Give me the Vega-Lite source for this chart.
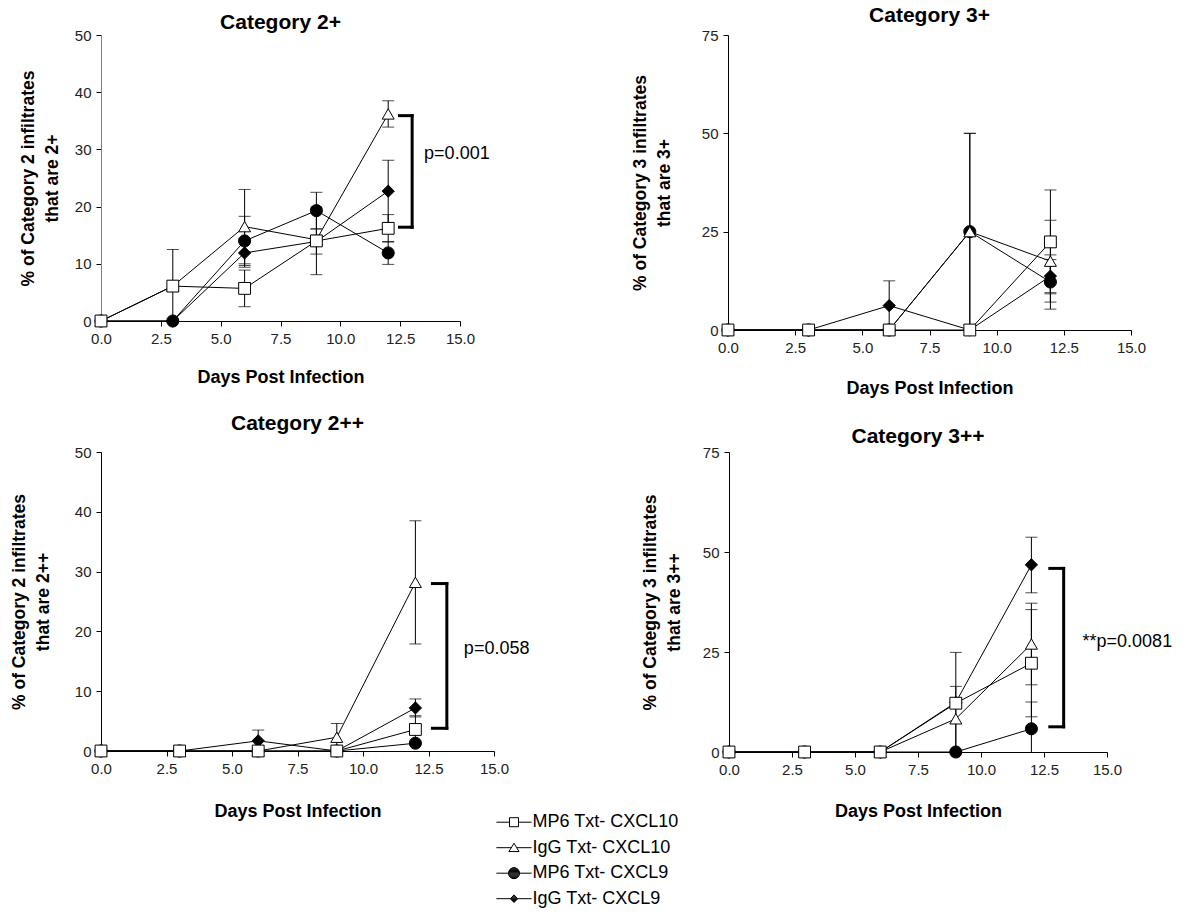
{
  "$schema": "https://vega.github.io/schema/vega-lite/v6.json",
  "background": "white",
  "padding": {"left": 10, "top": 5, "right": 5, "bottom": 5},
  "config": {
    "view": {"stroke": null},
    "font": "Liberation Sans",
    "axis": {"grid": false, "domainColor": "#000", "domainWidth": 1, "tickColor": "#000", "tickWidth": 1, "tickSize": 5, "labelFont": "Liberation Sans", "labelFontSize": 15, "labelColor": "#222", "labelPadding": 5, "labelFlush": false, "titleFont": "Liberation Sans", "titleFontSize": 18, "titleFontWeight": "bold", "titleColor": "#000"},
    "axisY": {"titleFontSize": 17.5, "titleLineHeight": 24},
    "title": {"font": "Liberation Sans", "fontSize": 21, "fontWeight": "bold", "color": "#000", "frame": "group"}
  },
  "datasets": {
    "pts": [
      {"panel": "Category 2+", "series": "IgG Txt- CXCL9", "day": 0, "mean": 0, "lo": 0, "hi": 0},
      {"panel": "Category 2+", "series": "IgG Txt- CXCL9", "day": 3, "mean": 0, "lo": 0, "hi": 0},
      {"panel": "Category 2+", "series": "IgG Txt- CXCL9", "day": 6, "mean": 11.9, "lo": 9.4, "hi": 14.4},
      {"panel": "Category 2+", "series": "IgG Txt- CXCL9", "day": 9, "mean": 13.9, "lo": 11.7, "hi": 16.1},
      {"panel": "Category 2+", "series": "IgG Txt- CXCL9", "day": 12, "mean": 22.7, "lo": 17.2, "hi": 28.1},
      {"panel": "Category 2+", "series": "MP6 Txt- CXCL9", "day": 0, "mean": 0, "lo": 0, "hi": 0},
      {"panel": "Category 2+", "series": "MP6 Txt- CXCL9", "day": 3, "mean": 0, "lo": 0, "hi": 0},
      {"panel": "Category 2+", "series": "MP6 Txt- CXCL9", "day": 6, "mean": 14.0, "lo": 9.7, "hi": 18.3},
      {"panel": "Category 2+", "series": "MP6 Txt- CXCL9", "day": 9, "mean": 19.3, "lo": 16.1, "hi": 22.5},
      {"panel": "Category 2+", "series": "MP6 Txt- CXCL9", "day": 12, "mean": 11.9, "lo": 9.9, "hi": 13.9},
      {"panel": "Category 2+", "series": "IgG Txt- CXCL10", "day": 0, "mean": 0, "lo": 0, "hi": 0},
      {"panel": "Category 2+", "series": "IgG Txt- CXCL10", "day": 3, "mean": 6.1, "lo": 6.1, "hi": 6.1},
      {"panel": "Category 2+", "series": "IgG Txt- CXCL10", "day": 6, "mean": 16.5, "lo": 10.0, "hi": 23.0},
      {"panel": "Category 2+", "series": "IgG Txt- CXCL10", "day": 9, "mean": 14.2, "lo": 13.4, "hi": 15.0},
      {"panel": "Category 2+", "series": "IgG Txt- CXCL10", "day": 12, "mean": 36.2, "lo": 33.9, "hi": 38.5},
      {"panel": "Category 2+", "series": "MP6 Txt- CXCL10", "day": 0, "mean": 0, "lo": 0, "hi": 0},
      {"panel": "Category 2+", "series": "MP6 Txt- CXCL10", "day": 3, "mean": 6.1, "lo": 0, "hi": 12.5},
      {"panel": "Category 2+", "series": "MP6 Txt- CXCL10", "day": 6, "mean": 5.7, "lo": 2.5, "hi": 8.9},
      {"panel": "Category 2+", "series": "MP6 Txt- CXCL10", "day": 9, "mean": 14.0, "lo": 8.1, "hi": 19.9},
      {"panel": "Category 2+", "series": "MP6 Txt- CXCL10", "day": 12, "mean": 16.2, "lo": 13.8, "hi": 18.6},

      {"panel": "Category 3+", "series": "IgG Txt- CXCL9", "day": 0, "mean": 0, "lo": 0, "hi": 0},
      {"panel": "Category 3+", "series": "IgG Txt- CXCL9", "day": 3, "mean": 0, "lo": 0, "hi": 0},
      {"panel": "Category 3+", "series": "IgG Txt- CXCL9", "day": 6, "mean": 6.2, "lo": 0, "hi": 12.5},
      {"panel": "Category 3+", "series": "IgG Txt- CXCL9", "day": 9, "mean": 0, "lo": 0, "hi": 0},
      {"panel": "Category 3+", "series": "IgG Txt- CXCL9", "day": 12, "mean": 13.7, "lo": 9.5, "hi": 17.9},
      {"panel": "Category 3+", "series": "MP6 Txt- CXCL9", "day": 0, "mean": 0, "lo": 0, "hi": 0},
      {"panel": "Category 3+", "series": "MP6 Txt- CXCL9", "day": 3, "mean": 0, "lo": 0, "hi": 0},
      {"panel": "Category 3+", "series": "MP6 Txt- CXCL9", "day": 6, "mean": 0, "lo": 0, "hi": 0},
      {"panel": "Category 3+", "series": "MP6 Txt- CXCL9", "day": 9, "mean": 25, "lo": 0, "hi": 50},
      {"panel": "Category 3+", "series": "MP6 Txt- CXCL9", "day": 12, "mean": 12.2, "lo": 5.3, "hi": 19.1},
      {"panel": "Category 3+", "series": "IgG Txt- CXCL10", "day": 0, "mean": 0, "lo": 0, "hi": 0},
      {"panel": "Category 3+", "series": "IgG Txt- CXCL10", "day": 3, "mean": 0, "lo": 0, "hi": 0},
      {"panel": "Category 3+", "series": "IgG Txt- CXCL10", "day": 6, "mean": 0, "lo": 0, "hi": 0},
      {"panel": "Category 3+", "series": "IgG Txt- CXCL10", "day": 9, "mean": 25, "lo": 0, "hi": 50},
      {"panel": "Category 3+", "series": "IgG Txt- CXCL10", "day": 12, "mean": 17.5, "lo": 7.1, "hi": 27.9},
      {"panel": "Category 3+", "series": "MP6 Txt- CXCL10", "day": 0, "mean": 0, "lo": 0, "hi": 0},
      {"panel": "Category 3+", "series": "MP6 Txt- CXCL10", "day": 3, "mean": 0, "lo": 0, "hi": 0},
      {"panel": "Category 3+", "series": "MP6 Txt- CXCL10", "day": 6, "mean": 0, "lo": 0, "hi": 0},
      {"panel": "Category 3+", "series": "MP6 Txt- CXCL10", "day": 9, "mean": 0, "lo": 0, "hi": 0},
      {"panel": "Category 3+", "series": "MP6 Txt- CXCL10", "day": 12, "mean": 22.4, "lo": 9.2, "hi": 35.6},

      {"panel": "Category 2++", "series": "IgG Txt- CXCL9", "day": 0, "mean": 0, "lo": 0, "hi": 0},
      {"panel": "Category 2++", "series": "IgG Txt- CXCL9", "day": 3, "mean": 0, "lo": 0, "hi": 0},
      {"panel": "Category 2++", "series": "IgG Txt- CXCL9", "day": 6, "mean": 1.7, "lo": 0, "hi": 3.5},
      {"panel": "Category 2++", "series": "IgG Txt- CXCL9", "day": 9, "mean": 0, "lo": 0, "hi": 0},
      {"panel": "Category 2++", "series": "IgG Txt- CXCL9", "day": 12, "mean": 7.2, "lo": 5.7, "hi": 8.7},
      {"panel": "Category 2++", "series": "MP6 Txt- CXCL9", "day": 0, "mean": 0, "lo": 0, "hi": 0},
      {"panel": "Category 2++", "series": "MP6 Txt- CXCL9", "day": 3, "mean": 0, "lo": 0, "hi": 0},
      {"panel": "Category 2++", "series": "MP6 Txt- CXCL9", "day": 6, "mean": 0, "lo": 0, "hi": 0},
      {"panel": "Category 2++", "series": "MP6 Txt- CXCL9", "day": 9, "mean": 0, "lo": 0, "hi": 0},
      {"panel": "Category 2++", "series": "MP6 Txt- CXCL9", "day": 12, "mean": 1.3, "lo": 1.3, "hi": 1.3},
      {"panel": "Category 2++", "series": "IgG Txt- CXCL10", "day": 0, "mean": 0, "lo": 0, "hi": 0},
      {"panel": "Category 2++", "series": "IgG Txt- CXCL10", "day": 3, "mean": 0, "lo": 0, "hi": 0},
      {"panel": "Category 2++", "series": "IgG Txt- CXCL10", "day": 6, "mean": 0, "lo": 0, "hi": 0},
      {"panel": "Category 2++", "series": "IgG Txt- CXCL10", "day": 9, "mean": 2.3, "lo": 0, "hi": 4.6},
      {"panel": "Category 2++", "series": "IgG Txt- CXCL10", "day": 12, "mean": 28.2, "lo": 17.9, "hi": 38.5},
      {"panel": "Category 2++", "series": "MP6 Txt- CXCL10", "day": 0, "mean": 0, "lo": 0, "hi": 0},
      {"panel": "Category 2++", "series": "MP6 Txt- CXCL10", "day": 3, "mean": 0, "lo": 0, "hi": 0},
      {"panel": "Category 2++", "series": "MP6 Txt- CXCL10", "day": 6, "mean": 0, "lo": 0, "hi": 0},
      {"panel": "Category 2++", "series": "MP6 Txt- CXCL10", "day": 9, "mean": 0, "lo": 0, "hi": 0},
      {"panel": "Category 2++", "series": "MP6 Txt- CXCL10", "day": 12, "mean": 3.6, "lo": 1.3, "hi": 5.9},

      {"panel": "Category 3++", "series": "IgG Txt- CXCL9", "day": 0, "mean": 0, "lo": 0, "hi": 0},
      {"panel": "Category 3++", "series": "IgG Txt- CXCL9", "day": 3, "mean": 0, "lo": 0, "hi": 0},
      {"panel": "Category 3++", "series": "IgG Txt- CXCL9", "day": 6, "mean": 0, "lo": 0, "hi": 0},
      {"panel": "Category 3++", "series": "IgG Txt- CXCL9", "day": 9, "mean": 12.4, "lo": 12.4, "hi": 12.4},
      {"panel": "Category 3++", "series": "IgG Txt- CXCL9", "day": 12, "mean": 46.8, "lo": 39.8, "hi": 53.7},
      {"panel": "Category 3++", "series": "MP6 Txt- CXCL9", "day": 0, "mean": 0, "lo": 0, "hi": 0},
      {"panel": "Category 3++", "series": "MP6 Txt- CXCL9", "day": 3, "mean": 0, "lo": 0, "hi": 0},
      {"panel": "Category 3++", "series": "MP6 Txt- CXCL9", "day": 6, "mean": 0, "lo": 0, "hi": 0},
      {"panel": "Category 3++", "series": "MP6 Txt- CXCL9", "day": 9, "mean": 0, "lo": 0, "hi": 0},
      {"panel": "Category 3++", "series": "MP6 Txt- CXCL9", "day": 12, "mean": 5.8, "lo": 0, "hi": 12.5},
      {"panel": "Category 3++", "series": "IgG Txt- CXCL10", "day": 0, "mean": 0, "lo": 0, "hi": 0},
      {"panel": "Category 3++", "series": "IgG Txt- CXCL10", "day": 3, "mean": 0, "lo": 0, "hi": 0},
      {"panel": "Category 3++", "series": "IgG Txt- CXCL10", "day": 6, "mean": 0, "lo": 0, "hi": 0},
      {"panel": "Category 3++", "series": "IgG Txt- CXCL10", "day": 9, "mean": 8.3, "lo": 0.2, "hi": 16.4},
      {"panel": "Category 3++", "series": "IgG Txt- CXCL10", "day": 12, "mean": 27.0, "lo": 16.8, "hi": 37.2},
      {"panel": "Category 3++", "series": "MP6 Txt- CXCL10", "day": 0, "mean": 0, "lo": 0, "hi": 0},
      {"panel": "Category 3++", "series": "MP6 Txt- CXCL10", "day": 3, "mean": 0, "lo": 0, "hi": 0},
      {"panel": "Category 3++", "series": "MP6 Txt- CXCL10", "day": 6, "mean": 0, "lo": 0, "hi": 0},
      {"panel": "Category 3++", "series": "MP6 Txt- CXCL10", "day": 9, "mean": 12.2, "lo": 0, "hi": 24.9},
      {"panel": "Category 3++", "series": "MP6 Txt- CXCL10", "day": 12, "mean": 22.2, "lo": 8.8, "hi": 35.6}
    ],
    "brackets": [
      {"panel": "Category 2+", "x": 13.0, "x2": 13.0, "y": 16.4, "y2": 35.9},
      {"panel": "Category 2+", "x": 12.47, "x2": 13.0, "y": 35.9, "y2": 35.9},
      {"panel": "Category 2+", "x": 12.47, "x2": 13.0, "y": 16.4, "y2": 16.4},
      {"panel": "Category 2++", "x": 13.2, "x2": 13.2, "y": 3.8, "y2": 28.0},
      {"panel": "Category 2++", "x": 12.65, "x2": 13.2, "y": 28.0, "y2": 28.0},
      {"panel": "Category 2++", "x": 12.65, "x2": 13.2, "y": 3.8, "y2": 3.8},
      {"panel": "Category 3++", "x": 13.28, "x2": 13.28, "y": 6.3, "y2": 45.9},
      {"panel": "Category 3++", "x": 12.73, "x2": 13.28, "y": 45.9, "y2": 45.9},
      {"panel": "Category 3++", "x": 12.73, "x2": 13.28, "y": 6.3, "y2": 6.3}
    ],
    "pvals": [
      {"panel": "Category 2+", "x": 13.5, "y": 29.2, "label": "p=0.001"},
      {"panel": "Category 2++", "x": 13.85, "y": 17.1, "label": "p=0.058"},
      {"panel": "Category 3++", "x": 14.03, "y": 27.4, "label": "**p=0.0081"}
    ]
  },
  "spacing": 16,
  "resolve": {"legend": {"shape": "independent"}},
  "vconcat": [
    {
      "resolve": {"legend": {"shape": "independent"}},
      "hconcat": [
        {
          "width": 359, "height": 286,
          "title": {"text": "Category 2+", "offset": -5},
          "data": {"name": "pts"},
          "transform": [{"filter": "datum.panel === 'Category 2+'"}],
          "encoding": {
            "x": {"field": "day", "type": "quantitative", "scale": {"domain": [0, 15], "nice": false, "zero": false}, "axis": {"values": [0, 2.5, 5, 7.5, 10, 12.5, 15], "format": ".1f", "title": "Days Post Infection", "titlePadding": 22}},
            "y": {"field": "mean", "type": "quantitative", "scale": {"domain": [0, 50], "nice": false}, "axis": {"values": [0, 10, 20, 30, 40, 50], "title": ["% of Category 2 infiltrates", "that are 2+"], "titlePadding": 13, "domainColor": "#808080"}}
          },
          "layer": [
            {"mark": {"type": "line", "color": "#000", "strokeWidth": 1}, "encoding": {"detail": {"field": "series"}, "order": {"field": "day"}}},
            {"transform": [{"filter": "datum.hi > datum.lo"}], "mark": {"type": "rule", "color": "#000", "strokeWidth": 1}, "encoding": {"y": {"field": "lo", "type": "quantitative"}, "y2": {"field": "hi"}}},
            {"transform": [{"filter": "datum.hi > datum.lo"}], "mark": {"type": "tick", "orient": "horizontal", "size": 12, "thickness": 1, "color": "#000"}, "encoding": {"y": {"field": "hi", "type": "quantitative"}}},
            {"transform": [{"filter": "datum.hi > datum.lo && datum.lo > 0"}], "mark": {"type": "tick", "orient": "horizontal", "size": 12, "thickness": 1, "color": "#000"}, "encoding": {"y": {"field": "lo", "type": "quantitative"}}},
            {"mark": {"type": "point", "filled": true, "stroke": "#000", "strokeWidth": 1, "opacity": 1},
             "encoding": {
               "shape": {"field": "series", "type": "nominal", "scale": {"domain": ["MP6 Txt- CXCL10", "IgG Txt- CXCL10", "MP6 Txt- CXCL9", "IgG Txt- CXCL9"], "range": ["square", "triangle-up", "circle", "diamond"]}, "legend": null},
               "fill": {"field": "series", "type": "nominal", "scale": {"domain": ["MP6 Txt- CXCL10", "IgG Txt- CXCL10", "MP6 Txt- CXCL9", "IgG Txt- CXCL9"], "range": ["white", "white", "black", "black"]}, "legend": null},
               "size": {"field": "series", "type": "nominal", "scale": {"domain": ["MP6 Txt- CXCL10", "IgG Txt- CXCL10", "MP6 Txt- CXCL9", "IgG Txt- CXCL9"], "range": [140, 150, 125, 90]}, "legend": null}
             }},
            {"data": {"name": "brackets"}, "transform": [{"filter": "datum.panel === 'Category 2+'"}], "mark": {"type": "rule", "color": "#000", "strokeWidth": 3, "strokeCap": "square"}, "encoding": {"x": {"field": "x", "type": "quantitative"}, "x2": {"field": "x2"}, "y": {"field": "y", "type": "quantitative"}, "y2": {"field": "y2"}}},
            {"data": {"name": "pvals"}, "transform": [{"filter": "datum.panel === 'Category 2+'"}], "mark": {"type": "text", "align": "left", "baseline": "middle", "font": "Liberation Sans", "fontSize": 18, "color": "#000"}, "encoding": {"x": {"field": "x", "type": "quantitative"}, "y": {"field": "y", "type": "quantitative"}, "text": {"field": "label"}}}
          ]
        },
        {
          "width": 403, "height": 295,
          "title": {"text": "Category 3+", "offset": 2},
          "data": {"name": "pts"},
          "transform": [{"filter": "datum.panel === 'Category 3+'"}],
          "encoding": {
            "x": {"field": "day", "type": "quantitative", "scale": {"domain": [0, 15], "nice": false, "zero": false}, "axis": {"values": [0, 2.5, 5, 7.5, 10, 12.5, 15], "format": ".1f", "title": "Days Post Infection", "titlePadding": 24}},
            "y": {"field": "mean", "type": "quantitative", "scale": {"domain": [0, 75], "nice": false}, "axis": {"values": [0, 25, 50, 75], "title": ["% of Category 3 infiltrates", "that are 3+"], "titlePadding": 28}}
          },
          "layer": [
            {"mark": {"type": "line", "color": "#000", "strokeWidth": 1}, "encoding": {"detail": {"field": "series"}, "order": {"field": "day"}}},
            {"transform": [{"filter": "datum.hi > datum.lo"}], "mark": {"type": "rule", "color": "#000", "strokeWidth": 1}, "encoding": {"y": {"field": "lo", "type": "quantitative"}, "y2": {"field": "hi"}}},
            {"transform": [{"filter": "datum.hi > datum.lo"}], "mark": {"type": "tick", "orient": "horizontal", "size": 12, "thickness": 1, "color": "#000"}, "encoding": {"y": {"field": "hi", "type": "quantitative"}}},
            {"transform": [{"filter": "datum.hi > datum.lo && datum.lo > 0"}], "mark": {"type": "tick", "orient": "horizontal", "size": 12, "thickness": 1, "color": "#000"}, "encoding": {"y": {"field": "lo", "type": "quantitative"}}},
            {"mark": {"type": "point", "filled": true, "stroke": "#000", "strokeWidth": 1, "opacity": 1},
             "encoding": {
               "shape": {"field": "series", "type": "nominal", "scale": {"domain": ["MP6 Txt- CXCL10", "IgG Txt- CXCL10", "MP6 Txt- CXCL9", "IgG Txt- CXCL9"], "range": ["square", "triangle-up", "circle", "diamond"]}, "legend": null},
               "fill": {"field": "series", "type": "nominal", "scale": {"domain": ["MP6 Txt- CXCL10", "IgG Txt- CXCL10", "MP6 Txt- CXCL9", "IgG Txt- CXCL9"], "range": ["white", "white", "black", "black"]}, "legend": null},
               "size": {"field": "series", "type": "nominal", "scale": {"domain": ["MP6 Txt- CXCL10", "IgG Txt- CXCL10", "MP6 Txt- CXCL9", "IgG Txt- CXCL9"], "range": [140, 150, 125, 90]}, "legend": null}
             }}
          ]
        }
      ],
      "spacing": 268,
      "bounds": "flush"
    },
    {
      "resolve": {"legend": {"shape": "independent"}},
      "hconcat": [
        {
          "width": 393, "height": 299,
          "title": {"text": "Category 2++", "offset": 11},
          "data": {"name": "pts"},
          "transform": [{"filter": "datum.panel === 'Category 2++'"}],
          "encoding": {
            "x": {"field": "day", "type": "quantitative", "scale": {"domain": [0, 15], "nice": false, "zero": false}, "axis": {"values": [0, 2.5, 5, 7.5, 10, 12.5, 15], "format": ".1f", "title": "Days Post Infection", "titlePadding": 26}},
            "y": {"field": "mean", "type": "quantitative", "scale": {"domain": [0, 50], "nice": false}, "axis": {"values": [0, 10, 20, 30, 40, 50], "title": ["% of Category 2 infiltrates", "that are 2++"], "titlePadding": 22}}
          },
          "resolve": {"scale": {"shape": "independent"}},
          "layer": [
            {"mark": {"type": "line", "color": "#000", "strokeWidth": 1}, "encoding": {"detail": {"field": "series"}, "order": {"field": "day"}}},
            {"transform": [{"filter": "datum.hi > datum.lo"}], "mark": {"type": "rule", "color": "#000", "strokeWidth": 1}, "encoding": {"y": {"field": "lo", "type": "quantitative"}, "y2": {"field": "hi"}}},
            {"transform": [{"filter": "datum.hi > datum.lo"}], "mark": {"type": "tick", "orient": "horizontal", "size": 12, "thickness": 1, "color": "#000"}, "encoding": {"y": {"field": "hi", "type": "quantitative"}}},
            {"transform": [{"filter": "datum.hi > datum.lo && datum.lo > 0"}], "mark": {"type": "tick", "orient": "horizontal", "size": 12, "thickness": 1, "color": "#000"}, "encoding": {"y": {"field": "lo", "type": "quantitative"}}},
            {"mark": {"type": "point", "filled": true, "stroke": "#000", "strokeWidth": 1, "opacity": 1},
             "encoding": {
               "shape": {"field": "series", "type": "nominal", "scale": {"domain": ["MP6 Txt- CXCL10", "IgG Txt- CXCL10", "MP6 Txt- CXCL9", "IgG Txt- CXCL9"], "range": ["square", "triangle-up", "circle", "diamond"]}, "legend": null},
               "fill": {"field": "series", "type": "nominal", "scale": {"domain": ["MP6 Txt- CXCL10", "IgG Txt- CXCL10", "MP6 Txt- CXCL9", "IgG Txt- CXCL9"], "range": ["white", "white", "black", "black"]}, "legend": null},
               "size": {"field": "series", "type": "nominal", "scale": {"domain": ["MP6 Txt- CXCL10", "IgG Txt- CXCL10", "MP6 Txt- CXCL9", "IgG Txt- CXCL9"], "range": [140, 150, 125, 90]}, "legend": null}
             }},
            {"transform": [{"filter": "datum.day < 0"}],
             "mark": {"type": "point", "filled": false, "color": "#000", "strokeWidth": 1, "opacity": 1},
             "encoding": {
               "shape": {"field": "series", "type": "nominal", "scale": {"domain": ["MP6 Txt- CXCL10", "IgG Txt- CXCL10", "MP6 Txt- CXCL9", "IgG Txt- CXCL9"], "range": [
                 "M-1.6,0H-0.41M0.41,0H1.6M-0.41,-0.41H0.41V0.41H-0.41Z",
                 "M-1.6,0H-0.245M0.245,0H1.6M0,-0.4L0.46,0.35L-0.46,0.35Z",
                 "M-1.6,0H1.6M-0.5,0A0.5,0.5,0,1,1,0.5,0A0.5,0.5,0,1,1,-0.5,0ZM-0.14,-0.48H0.14M-0.3,-0.4H0.3M-0.384,-0.32H0.384M-0.439,-0.24H0.439M-0.474,-0.16H0.474M-0.494,-0.08H0.494M-0.494,0.08H0.494M-0.474,0.16H0.474M-0.439,0.24H0.439M-0.384,0.32H0.384M-0.3,0.4H0.3M-0.14,0.48H0.14",
                 "M-1.6,0H1.6M0,-0.34L0.34,0L0,0.34L-0.34,0ZM-0.02,-0.32H0.02M-0.1,-0.24H0.1M-0.18,-0.16H0.18M-0.26,-0.08H0.26M-0.26,0.08H0.26M-0.18,0.16H0.18M-0.1,0.24H0.1M-0.02,0.32H0.02"]},
                 "legend": {"title": null, "orient": "none", "legendX": 401.5, "legendY": 358.7, "padding": 0, "labelFont": "Liberation Sans", "labelFontSize": 18, "labelColor": "#000", "symbolSize": 484, "symbolStrokeColor": "#000", "symbolStrokeWidth": 1, "symbolFillColor": "transparent", "symbolOpacity": 1, "labelOffset": 7, "rowPadding": 4.5}}
             }},
            {"data": {"name": "brackets"}, "transform": [{"filter": "datum.panel === 'Category 2++'"}], "mark": {"type": "rule", "color": "#000", "strokeWidth": 3, "strokeCap": "square"}, "encoding": {"x": {"field": "x", "type": "quantitative"}, "x2": {"field": "x2"}, "y": {"field": "y", "type": "quantitative"}, "y2": {"field": "y2"}}},
            {"data": {"name": "pvals"}, "transform": [{"filter": "datum.panel === 'Category 2++'"}], "mark": {"type": "text", "align": "left", "baseline": "middle", "font": "Liberation Sans", "fontSize": 18, "color": "#000"}, "encoding": {"x": {"field": "x", "type": "quantitative"}, "y": {"field": "y", "type": "quantitative"}, "text": {"field": "label"}}}
          ]
        },
        {
          "width": 378, "height": 300,
          "title": {"text": "Category 3++", "offset": -2},
          "data": {"name": "pts"},
          "transform": [{"filter": "datum.panel === 'Category 3++'"}],
          "encoding": {
            "x": {"field": "day", "type": "quantitative", "scale": {"domain": [0, 15], "nice": false, "zero": false}, "axis": {"values": [0, 2.5, 5, 7.5, 10, 12.5, 15], "format": ".1f", "title": "Days Post Infection", "titlePadding": 25}},
            "y": {"field": "mean", "type": "quantitative", "scale": {"domain": [0, 75], "nice": false}, "axis": {"values": [0, 25, 50, 75], "title": ["% of Category 3 infiltrates", "that are 3++"], "titlePadding": 19}}
          },
          "layer": [
            {"mark": {"type": "line", "color": "#000", "strokeWidth": 1}, "encoding": {"detail": {"field": "series"}, "order": {"field": "day"}}},
            {"transform": [{"filter": "datum.hi > datum.lo"}], "mark": {"type": "rule", "color": "#000", "strokeWidth": 1}, "encoding": {"y": {"field": "lo", "type": "quantitative"}, "y2": {"field": "hi"}}},
            {"transform": [{"filter": "datum.hi > datum.lo"}], "mark": {"type": "tick", "orient": "horizontal", "size": 12, "thickness": 1, "color": "#000"}, "encoding": {"y": {"field": "hi", "type": "quantitative"}}},
            {"transform": [{"filter": "datum.hi > datum.lo && datum.lo > 0"}], "mark": {"type": "tick", "orient": "horizontal", "size": 12, "thickness": 1, "color": "#000"}, "encoding": {"y": {"field": "lo", "type": "quantitative"}}},
            {"mark": {"type": "point", "filled": true, "stroke": "#000", "strokeWidth": 1, "opacity": 1},
             "encoding": {
               "shape": {"field": "series", "type": "nominal", "scale": {"domain": ["MP6 Txt- CXCL10", "IgG Txt- CXCL10", "MP6 Txt- CXCL9", "IgG Txt- CXCL9"], "range": ["square", "triangle-up", "circle", "diamond"]}, "legend": null},
               "fill": {"field": "series", "type": "nominal", "scale": {"domain": ["MP6 Txt- CXCL10", "IgG Txt- CXCL10", "MP6 Txt- CXCL9", "IgG Txt- CXCL9"], "range": ["white", "white", "black", "black"]}, "legend": null},
               "size": {"field": "series", "type": "nominal", "scale": {"domain": ["MP6 Txt- CXCL10", "IgG Txt- CXCL10", "MP6 Txt- CXCL9", "IgG Txt- CXCL9"], "range": [140, 150, 125, 90]}, "legend": null}
             }},
            {"data": {"name": "brackets"}, "transform": [{"filter": "datum.panel === 'Category 3++'"}], "mark": {"type": "rule", "color": "#000", "strokeWidth": 3, "strokeCap": "square"}, "encoding": {"x": {"field": "x", "type": "quantitative"}, "x2": {"field": "x2"}, "y": {"field": "y", "type": "quantitative"}, "y2": {"field": "y2"}}},
            {"data": {"name": "pvals"}, "transform": [{"filter": "datum.panel === 'Category 3++'"}], "mark": {"type": "text", "align": "left", "baseline": "middle", "font": "Liberation Sans", "fontSize": 18, "color": "#000"}, "encoding": {"x": {"field": "x", "type": "quantitative"}, "y": {"field": "y", "type": "quantitative"}, "text": {"field": "label"}}}
          ]
        }
      ],
      "spacing": 235,
      "bounds": "flush"
    }
  ]
}
